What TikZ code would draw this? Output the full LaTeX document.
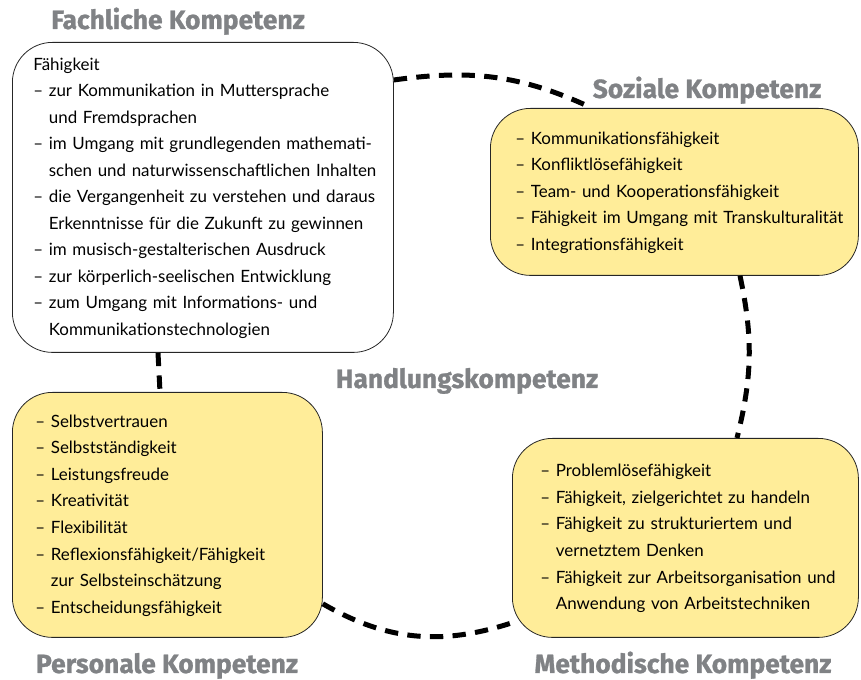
\documentclass[tikz,border=0pt]{standalone}
\usepackage{fontspec}
\setmainfont{Lato}
\newfontfamily\titlefont{Fira Sans}[BoldFeatures={FakeBold=1.0}]
\usetikzlibrary{calc}
\definecolor{boxyellow}{RGB}{255,237,153}
\definecolor{titlegray}{RGB}{128,130,133}
\newcommand{\cont}{\phantom{– }}

\tikzset{
  kbox/.style={draw=black!85, line width=0.6pt, rounded corners=30pt, anchor=north west,
    align=left, font=\fontsize{12.7}{19.9}\selectfont},
  ybox/.style={kbox, fill=boxyellow},
  ktitle/.style={anchor=base, text=titlegray, font=\titlefont\bfseries\fontsize{19.8}{21}\selectfont},
  link/.style={line width=3.75pt, dash pattern=on 10pt off 7pt}
}

\begin{document}
\begin{tikzpicture}[x=0.75pt, y=0.75pt]
  \useasboundingbox (0,0) rectangle (861,-680);

  \node[kbox, minimum width=285.75pt, minimum height=232.5pt, inner xsep=15.75pt, text width=254.25pt] (fach) at (12,-42)
    {\begin{tabular}{@{}l@{}}
     Fähigkeit\\
     – zur Kommunikation in Muttersprache\\
     \cont und Fremdsprachen\\
     – im Umgang mit grundlegenden mathemati-\\
     \cont schen und naturwissenschaftlichen Inhalten\\
     – die Vergangenheit zu verstehen und daraus\\
     \cont Erkenntnisse für die Zukunft zu gewinnen\\
     – im musisch-gestalterischen Ausdruck\\
     – zur körperlich-seelischen Entwicklung\\
     – zum Umgang mit Informations- und\\
     \cont Kommunikationstechnologien
     \end{tabular}};

  \node[ybox, minimum width=276pt, minimum height=125.25pt, inner xsep=18.75pt, text width=238.5pt] (soz) at (490,-108)
    {\begin{tabular}{@{}l@{}}
     – Kommunikationsfähigkeit\\
     – Konfliktlösefähigkeit\\
     – Team- und Kooperationsfähigkeit\\
     – Fähigkeit im Umgang mit Transkulturalität\\
     – Integrationsfähigkeit
     \end{tabular}};

  \node[ybox, minimum width=232.5pt, minimum height=183.75pt, inner xsep=17.25pt, text width=198pt] (pers) at (12,-392)
    {\begin{tabular}{@{}l@{}}
     – Selbstvertrauen\\
     – Selbstständigkeit\\
     – Leistungsfreude\\
     – Kreativität\\
     – Flexibilität\\
     – Reflexionsfähigkeit/Fähigkeit\\
     \cont zur Selbsteinschätzung\\
     – Entscheidungsfähigkeit
     \end{tabular}};

  \node[ybox, minimum width=259.5pt, minimum height=149.25pt, inner xsep=21pt, text width=217.5pt] (meth) at (512,-438)
    {\begin{tabular}{@{}l@{}}
     – Problemlösefähigkeit\\
     – Fähigkeit, zielgerichtet zu handeln\\
     – Fähigkeit zu strukturiertem und\\
     \cont vernetztem Denken\\
     – Fähigkeit zur Arbeitsorganisation und\\
     \cont Anwendung von Arbeitstechniken
     \end{tabular}};

  \node[ktitle] (fachT) at (178,-29) {Fachliche Kompetenz};
  \node[ktitle] (sozT) at (707,-98) {Soziale Kompetenz};
  \node[ktitle] (handl) at (467,-388) {Handlungskompetenz};
  \node[ktitle] (persT) at (167,-673) {Personale Kompetenz};
  \node[ktitle] (methT) at (683,-673) {Methodische Kompetenz};

  \draw[link] ($(fach.north east)+(0,-38)$) to[out=8, in=155] ($(soz.north west)+(102,0)$);
  \draw[link] ($(soz.south west)+(250,0)$) to[out=-78, in=76] ($(meth.north west)+(225,0)$);
  \draw[link] ($(pers.south east)+(0,34)$) to[out=-30, in=-162] ($(meth.south west)+(0,15)$);
  \draw[link] ($(fach.south west)+(146,0)$) -- ($(pers.north west)+(148,0)$);
\end{tikzpicture}
\end{document}
